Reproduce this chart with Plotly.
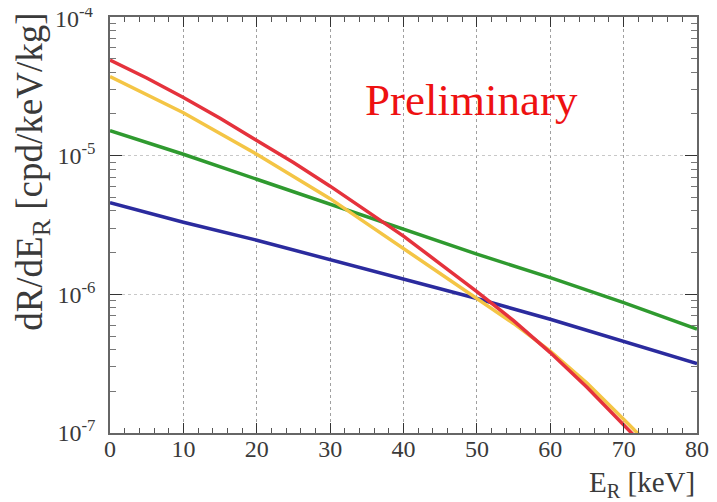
import plotly.graph_objects as go

# Recoil energy points (keV)
energy = [0, 10, 20, 30, 40, 50, 60, 70, 80]

# Read-off values (log10 of dR/dE_R in cpd/keV/kg)
red_x = [0, 5, 10, 15, 20, 25, 30, 35, 40, 45, 50, 55, 60, 65, 70, 72]
red_log = [-4.31, -4.44, -4.58, -4.73, -4.89, -5.05, -5.22, -5.40, -5.58, -5.78,
           -5.98, -6.19, -6.42, -6.67, -6.94, -7.05]
yellow_x = [0, 5, 10, 15, 20, 25, 30, 35, 40, 45, 50, 55, 60, 65, 70, 73]
yellow_log = [-4.43, -4.56, -4.69, -4.84, -4.99, -5.15, -5.31, -5.49, -5.67, -5.85,
              -6.03, -6.21, -6.41, -6.64, -6.90, -7.06]
green_log = [-4.82, -4.99, -5.17, -5.35, -5.53, -5.71, -5.88, -6.06, -6.25]
blue_log = [-5.34, -5.48, -5.61, -5.75, -5.89, -6.03, -6.18, -6.34, -6.50]

y_tickvals = [1e-7, 1e-6, 1e-5, 1e-4]
y_ticktext = ["10<sup>-7</sup>", "10<sup>-6</sup>", "10<sup>-5</sup>", "10<sup>-4</sup>"]
x_tickvals = [0, 10, 20, 30, 40, 50, 60, 70, 80]

def tolin(v):
    return [10 ** a for a in v]

fig = go.Figure()
series = [
    (energy, green_log, "#2f9a2f"),
    (energy, blue_log, "#2b2b9e"),
    (yellow_x, yellow_log, "#f4c545"),
    (red_x, red_log, "#e5323c"),
]
for xs, ys, col in series:
    fig.add_trace(go.Scatter(x=xs, y=tolin(ys), mode="lines",
                             line=dict(color=col, width=3.5),
                             showlegend=False))

font_family = "Liberation Serif, DejaVu Serif, serif"
# top tick label drawn as annotation (axis would drop it at the paper edge)
axis_ticktext = y_ticktext[:-1] + [""]

fig.update_layout(
    width=717, height=502,
    margin=dict(l=102, r=28, t=9, b=77),
    paper_bgcolor="white", plot_bgcolor="white",
    font=dict(family=font_family, size=24, color="#3a3a3a"),
    xaxis=dict(range=[0, 80], tickvals=x_tickvals, ticks="inside", ticklen=10,
               tickcolor="#333", mirror="allticks", showline=True, linecolor="#666",
               linewidth=1.5, showgrid=True, gridcolor="#a0a0a0", griddash="dot",
               gridwidth=1, zeroline=False, ticklabelstandoff=-7, automargin=False,
               minor=dict(ticks="inside", ticklen=5, dtick=2, tickcolor="#555", showgrid=False),
               tickfont=dict(size=24, family=font_family, color="#3a3a3a")),
    yaxis=dict(type="log", range=[-7, -4], tickvals=y_tickvals, ticktext=axis_ticktext,
               ticks="inside", ticklen=12, tickcolor="#333", mirror="allticks",
               showline=True, linecolor="#666", linewidth=1.5, showgrid=True,
               gridcolor="#c8c8c8", griddash="dot", gridwidth=1, zeroline=False,
               ticklabelstandoff=8, automargin=False,
               minor=dict(ticks="inside", ticklen=6, dtick="D1", tickcolor="#777", showgrid=False),
               tickfont=dict(size=24, family=font_family, color="#3a3a3a")),
    annotations=[
        dict(text=y_ticktext[-1], xref="paper", yref="y", x=-0.024, y=-4,
             xanchor="right", yanchor="middle", showarrow=False,
             font=dict(family=font_family, size=24, color="#3a3a3a")),
        dict(text="Preliminary", xref="paper", yref="paper", x=0.615, y=0.801,
             xanchor="center", yanchor="middle", showarrow=False,
             font=dict(family=font_family, size=45, color="#ee1111")),
        dict(text="dR/dE<sub>R</sub> [cpd/keV/kg]", xref="paper", yref="paper",
             x=-0.131, y=1.015, xanchor="center", yanchor="top", textangle=-90,
             showarrow=False, font=dict(family=font_family, size=37, color="#3a3a3a")),
        dict(text="E<sub>R</sub> [keV]", xref="paper", yref="paper",
             x=1.0, y=-0.122, xanchor="right", yanchor="middle",
             showarrow=False, font=dict(family=font_family, size=29, color="#3a3a3a")),
    ],
)

fig.write_html("out.html")
